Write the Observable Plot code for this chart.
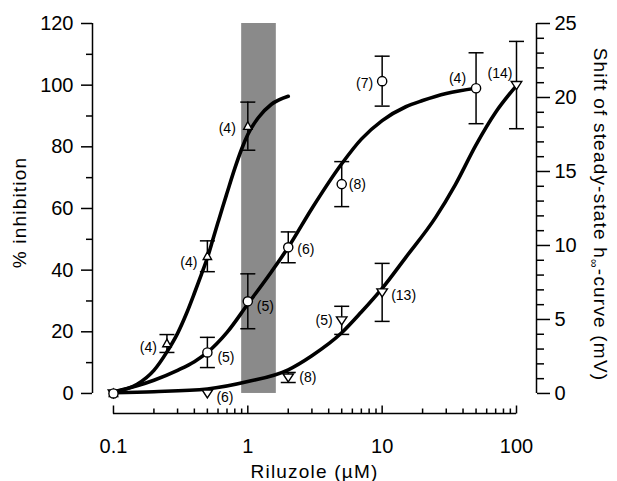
<!DOCTYPE html>
<html><head><meta charset="utf-8">
<script src="https://cdn.jsdelivr.net/npm/d3@7"></script>
<script src="https://cdn.jsdelivr.net/npm/@observablehq/plot@0.6"></script>
<style>body{margin:0;background:#fff;}</style>
</head><body><div id="chart"></div>
<script>
// ---------- DATA ----------
// Upward triangles: % inhibition (left axis)
const triConc  = [0.1, 0.25, 0.5, 1];
const triInhib = [0, 16.2, 44.5, 86.7];
const triErr   = [0, 2.9, 5.0, 7.8];
const triN     = [null, 4, 4, 4];

// Circles: % inhibition (left axis)
const circConc  = [0.1, 0.5, 1, 2, 5, 10, 50];
const circInhib = [0, 13.3, 29.9, 47.4, 67.9, 101.3, 99.0];
const circErr   = [0, 4.9, 8.9, 5.0, 7.3, 8.1, 11.5];
const circN     = [null, 5, 5, 6, 8, 7, 4];

// Downward triangles: shift of steady-state h-curve, mV (right axis)
const invConc  = [0.1, 0.5, 2, 5, 10, 100];
const invShift = [0, 0, 1.08, 4.94, 6.83, 20.84];
const invErr   = [0, 0, 0.34, 0.95, 1.96, 2.95];
const invN     = [null, 6, 8, 5, 13, 14];

// Fitted curves
const triFitConc  = [0.1, 0.15, 0.2, 0.25, 0.3, 0.35, 0.4, 0.45, 0.5, 0.55, 0.6, 0.65, 0.7, 0.8, 0.9, 1.0, 1.2, 1.5, 2.0];
const triFitInhib = [0.5, 3, 7.5, 13.5, 19.5, 26, 32.5, 38.5, 44, 50, 55.5, 60.5, 65, 73, 79.3, 84, 89.5, 93.8, 96.4];

const circFitConc  = [0.1, 0.15, 0.2, 0.3, 0.4, 0.5, 0.7, 1, 1.5, 2, 3, 5, 7, 10, 15, 20, 30, 50];
const circFitInhib = [0.5, 2.5, 4.3, 7.5, 10.3, 13.3, 19.8, 29, 39.5, 47.4, 60, 74.5, 82.5, 88.5, 93, 95, 97.3, 99];

const invFitConc  = [0.1, 0.2, 0.5, 1, 2, 3, 5, 7, 10, 15, 25, 35, 50, 70, 100];
const invFitShift = [0.05, 0.12, 0.3, 0.8, 1.6, 2.55, 4.1, 5.5, 7.1, 9.2, 11.9, 14.1, 16.8, 19.0, 20.8];

// Shaded concentration band
const bandConc = [0.9, 1.63];
const bandTop  = 120;

// Axis ticks
const xMajor = [0.1, 1, 10, 100];
const xMinor = [0.2,0.3,0.4,0.5,0.6,0.7,0.8,0.9, 2,3,4,5,6,7,8,9, 20,30,40,50,60,70,80,90];
const yLeftMajor = [0, 20, 40, 60, 80, 100, 120];
const yLeftMinor = [10, 30, 50, 70, 90, 110];
const yRightMajor = [0, 5, 10, 15, 20, 25];
const yRightMinor = [1,2,3,4,6,7,8,9,11,12,13,14,16,17,18,19,21,22,23,24];

// ---------- SCALES / LAYOUT ----------
const K = 120 / 25;                 // right-axis (mV) -> left-axis units
const xMin = 0.0698, xMax = 140.9;  // frame extent of the log x scale
const yMin = -6.5, yMax = 120;

const rows = (conc, val, err, n, k = 1) => conc.map((c, i) => ({c, v: val[i] * k, e: err[i] * k, n: n[i]}));
const triRows  = rows(triConc, triInhib, triErr, triN);
const circRows = rows(circConc, circInhib, circErr, circN);
const invRows  = rows(invConc, invShift, invErr, invN, K);
const fit = (conc, val, k = 1) => conc.map((c, i) => ({c, v: val[i] * k}));
const series = {tri: triRows, circ: circRows, inv: invRows};

// symbols
const R = s => Math.sqrt(s / Math.PI);
const capSym = {draw(ctx, s) { const r = R(s); ctx.moveTo(-r, 0); ctx.lineTo(r, 0); }};
const tickUpSym = {draw(ctx, s) { const r = R(s); ctx.moveTo(0, 0); ctx.lineTo(0, -r); }};
const triUpSym = {draw(ctx, s) { const r = R(s); ctx.moveTo(0, -r); ctx.lineTo(r * 0.95, r * 0.72); ctx.lineTo(-r * 0.95, r * 0.72); ctx.closePath(); }};
const triDownSym = {draw(ctx, s) { const r = R(s); ctx.moveTo(0, r * 0.9); ctx.lineTo(r * 1.05, -r * 0.7); ctx.lineTo(-r * 1.05, -r * 0.7); ctx.closePath(); }};

// label placement (layout)
const labelLayout = [
  {s: "tri", i: 1, dx: -10, dy: 4, a: "end"},
  {s: "tri", i: 2, dx: -10, dy: 6, a: "end"},
  {s: "tri", i: 3, dx: -12, dy: 2, a: "end"},
  {s: "circ", i: 1, dx: 10, dy: 5, a: "start"},
  {s: "circ", i: 2, dx: 9, dy: 5, a: "start"},
  {s: "circ", i: 3, dx: 9, dy: 2, a: "start"},
  {s: "circ", i: 4, dx: 7, dy: 0, a: "start"},
  {s: "circ", i: 5, dx: -9, dy: 2, a: "end"},
  {s: "circ", i: 6, dx: -10, dy: -10, a: "end"},
  {s: "inv", i: 1, dx: 9, dy: 4, a: "start"},
  {s: "inv", i: 2, dx: 11, dy: 0, a: "start"},
  {s: "inv", i: 3, dx: -9, dy: 0, a: "end"},
  {s: "inv", i: 4, dx: 9, dy: 3, a: "start"},
  {s: "inv", i: 5, dx: -4, dy: -12, a: "end"}
];

const errMarks = (data) => {
  const d = data.filter(r => r.e > 0);
  return [
    Plot.ruleX(d, {x: "c", y1: r => r.v - r.e, y2: r => r.v + r.e, stroke: "black", strokeWidth: 1.5}),
    Plot.dot(d, {x: "c", y: r => r.v + r.e, symbol: capSym, r: 7.5, fill: "none", stroke: "black", strokeWidth: 1.5}),
    Plot.dot(d, {x: "c", y: r => r.v - r.e, symbol: capSym, r: 7.5, fill: "none", stroke: "black", strokeWidth: 1.5})
  ];
};

const lineOpts = {x: "c", y: "v", stroke: "black", strokeWidth: 3.6, curve: "monotone-x", strokeLinecap: "round", strokeLinejoin: "round"};

const plot = Plot.plot({
  width: 617, height: 481,
  marginLeft: 92, marginRight: 81, marginTop: 23, marginBottom: 68,
  x: {type: "log", domain: [xMin, xMax]},
  y: {domain: [yMin, yMax]},
  style: {fontFamily: "'Liberation Sans', Arial, Helvetica, sans-serif", background: "white", color: "black"},
  marks: [
    Plot.rect([bandConc], {x1: d => d[0], x2: d => d[1], y1: 0, y2: bandTop, fill: "#8a8a8a"}),
    Plot.line(fit(triFitConc, triFitInhib), lineOpts),
    Plot.line(fit(circFitConc, circFitInhib), lineOpts),
    Plot.line(fit(invFitConc, invFitShift, K), lineOpts),
    ...errMarks(triRows), ...errMarks(circRows), ...errMarks(invRows),
    Plot.dot(triRows, {x: "c", y: "v", symbol: triUpSym, r: 4.4, fill: "white", stroke: "black", strokeWidth: 1.4}),
    Plot.dot(invRows, {x: "c", y: "v", symbol: triDownSym, r: 5, fill: "white", stroke: "black", strokeWidth: 1.4}),
    Plot.dot(circRows, {x: "c", y: "v", symbol: "circle", r: 4.6, fill: "white", stroke: "black", strokeWidth: 1.4}),
    ...labelLayout.map(L => Plot.text([series[L.s][L.i]], {x: "c", y: "v", text: d => `(${d.n})`, dx: L.dx, dy: L.dy, textAnchor: L.a, lineAnchor: "middle", fontSize: 14})),
    // axis lines
    Plot.ruleX([xMin], {y1: 0, y2: 120, stroke: "black", strokeWidth: 1.5}),
    Plot.ruleX([xMax], {y1: 0, y2: 120, stroke: "black", strokeWidth: 1.5}),
    Plot.ruleY([yMin], {x1: xMajor[0], x2: xMajor[xMajor.length - 1], stroke: "black", strokeWidth: 1.5}),
    // left axis
    Plot.axisY({anchor: "left", ticks: yLeftMajor, tickSize: 11, tickPadding: 8, fontSize: 20, strokeWidth: 1.5, label: null}),
    Plot.axisY({anchor: "left", ticks: yLeftMinor, tickSize: 6, tickFormat: () => "", strokeWidth: 1.5, label: null}),
    // right axis
    Plot.axisY({anchor: "right", ticks: yRightMajor.map(v => v * K), tickFormat: v => Math.round(v / K), tickSize: 13, tickPadding: 5, fontSize: 20, strokeWidth: 1.5, label: null}),
    Plot.axisY({anchor: "right", ticks: yRightMinor.map(v => v * K), tickFormat: () => "", tickSize: 7, strokeWidth: 1.5, label: null}),
    // bottom axis
    Plot.axisX({anchor: "bottom", ticks: xMajor, tickFormat: d => String(d), tickSize: 0, tickPadding: 25, fontSize: 20, label: null}),
    Plot.dot(xMajor, {x: d => d, y: yMin, symbol: tickUpSym, r: 8, fill: "none", stroke: "black", strokeWidth: 1.5}),
    Plot.dot(xMinor, {x: d => d, y: yMin, symbol: tickUpSym, r: 5, fill: "none", stroke: "black", strokeWidth: 1.5}),
    // titles
    Plot.text(["% inhibition"], {frameAnchor: "left", text: d => d, rotate: -90, dx: -73, dy: -6, fontSize: 19, textAnchor: "middle", lineAnchor: "middle"}),
    Plot.text(["Shift of steady-state h∞-curve (mV)"], {frameAnchor: "right", text: d => d, rotate: 90, dx: 64, dy: -4, fontSize: 19, textAnchor: "middle", lineAnchor: "middle"}),
    Plot.text(["Riluzole (µM)"], {frameAnchor: "bottom", text: d => d, dy: 58, fontSize: 19, textAnchor: "middle", lineAnchor: "middle"})
  ]
});

// typographic touches: letter spacing on titles, subscript ∞
plot.querySelectorAll("text").forEach(t => {
  const s = t.textContent;
  if (s === "% inhibition" || s === "Riluzole (µM)") t.style.letterSpacing = "1.2px";
  if (s.includes("h∞")) {
    t.style.letterSpacing = "1.2px";
    const [a, b] = s.split("∞");
    t.textContent = "";
    const ns = "http://www.w3.org/2000/svg";
    const t1 = document.createElementNS(ns, "tspan"); t1.textContent = a;
    const t2 = document.createElementNS(ns, "tspan"); t2.textContent = "∞"; t2.setAttribute("dy", "4"); t2.setAttribute("font-size", "12");
    const t3 = document.createElementNS(ns, "tspan"); t3.textContent = b; t3.setAttribute("dy", "-4");
    t.append(t1, t2, t3);
  }
});
document.getElementById("chart").append(plot);
</script></body></html>
